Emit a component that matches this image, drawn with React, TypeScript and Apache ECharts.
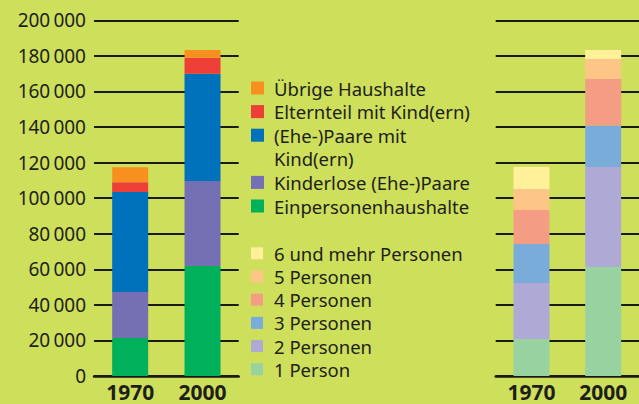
import React, { useEffect, useRef } from "react";
import * as echarts from "echarts";

const years = ["1970", "2000"];

// Haushaltstypen (bottom to top)
const einpersonen = [21400, 61900];
const kinderlose = [25800, 47800];
const paareMitKind = [56200, 60300];
const elternteil = [5600, 9000];
const uebrige = [8400, 4300];

// Haushaltsgröße (bottom to top)
const p1 = [20800, 61300];
const p2 = [31500, 56200];
const p3 = [21900, 23400];
const p4 = [19100, 26100];
const p5 = [11800, 11200];
const p6 = [12400, 5100];

const yTicks = [0, 20000, 40000, 60000, 80000, 100000, 120000, 140000, 160000, 180000, 200000];

const typeNames = ["Einpersonenhaushalte", "Kinderlose (Ehe-)Paare", "(Ehe-)Paare mit\nKind(ern)", "Elternteil mit Kind(ern)", "Übrige Haushalte"];
const typeData = [einpersonen, kinderlose, paareMitKind, elternteil, uebrige];
const typeColors = ["#00b05a", "#7470b3", "#0072bc", "#ee3e38", "#f7901e"];

const sizeNames = ["1 Person", "2 Personen", "3 Personen", "4 Personen", "5 Personen", "6 und mehr Personen"];
const sizeData = [p1, p2, p3, p4, p5, p6];
const sizeColors = ["#99d2a1", "#aeaad5", "#7aacd9", "#f59d84", "#fdc586", "#fff099"];

const FONT = "Noto Sans";
const TXT = "#1e1e1a";

export default function App() {
  const ref = useRef<HTMLDivElement>(null);
  useEffect(() => {
    if (!ref.current) return;
    const chart = echarts.init(ref.current, undefined, { renderer: "svg" });

    const gridTop = 20.3;
    const gridH = 355.7;
    const gridW = 144.7;

    const yAxisBase = (showLabels: boolean, gi: number) => ({
      type: "value",
      gridIndex: gi,
      min: 0,
      max: yTicks[yTicks.length - 1],
      interval: 20000,
      axisLine: { show: false },
      axisTick: { show: false },
      splitLine: { show: true, lineStyle: { color: "#1a1a16", width: 2 } },
      axisLabel: {
        show: showLabels,
        margin: 8,
        color: TXT,
        fontFamily: FONT,
        fontSize: 19,
        formatter: (v: number) => {
          if (v === 0) return "0";
          const s = String(v);
          return s.slice(0, s.length - 3) + "\u2009" + s.slice(s.length - 3);
        },
      },
    });

    const xAxisBase = (gi: number) => ({
      type: "category",
      gridIndex: gi,
      data: years,
      axisLine: { show: true, lineStyle: { color: "#1a1a16", width: 2.5 } },
      axisTick: { show: false },
      axisLabel: { color: TXT, fontFamily: FONT, fontSize: 21, fontWeight: "bold", margin: 5 },
    });

    const series: any[] = [];
    typeData.forEach((d, i) => {
      series.push({
        type: "bar",
        name: typeNames[i],
        xAxisIndex: 0,
        yAxisIndex: 0,
        stack: "typ",
        data: d,
        barWidth: 36,
        itemStyle: { color: typeColors[i] },
      });
    });
    sizeData.forEach((d, i) => {
      series.push({
        type: "bar",
        name: sizeNames[i],
        xAxisIndex: 1,
        yAxisIndex: 1,
        stack: "size",
        data: d,
        barWidth: 36,
        itemStyle: { color: sizeColors[i] },
      });
    });

    // Legends as graphics
    const graphics: any[] = [];
    const addLegend = (names: string[], colors: string[], startY: number, step: number, size: number) => {
      let line = 0;
      for (let i = names.length - 1; i >= 0; i--) {
        const y = startY + step * line;
        graphics.push({
          type: "rect",
          shape: { x: 251, y: y - size / 2, width: size, height: size },
          style: { fill: colors[i] },
        });
        graphics.push({
          type: "text",
          x: 274,
          y: y - step / 2,
          style: {
            text: names[i],
            fill: TXT,
            font: `18.5px "${FONT}"`,
            lineHeight: step,
            verticalAlign: "top",
          },
        });
        line += names[i].split("\n").length;
      }
    };
    addLegend(typeNames, typeColors, 88, 23.6, 13);
    addLegend(sizeNames, sizeColors, 253.3, 23.2, 12);

    chart.setOption({
      animation: false,
      backgroundColor: "#cddf5b",
      grid: [
        { left: 94, top: gridTop, width: gridW, height: gridH },
        { left: 495.7, top: gridTop, width: gridW, height: gridH },
      ],
      xAxis: [xAxisBase(0), xAxisBase(1)],
      yAxis: [yAxisBase(true, 0), yAxisBase(false, 1)],
      series,
      graphic: graphics,
    });
    return () => chart.dispose();
  }, []);
  return (
    <div
      ref={ref}
      style={{ position: "fixed", left: 0, top: 0, width: 639, height: 404 }}
    />
  );
}
